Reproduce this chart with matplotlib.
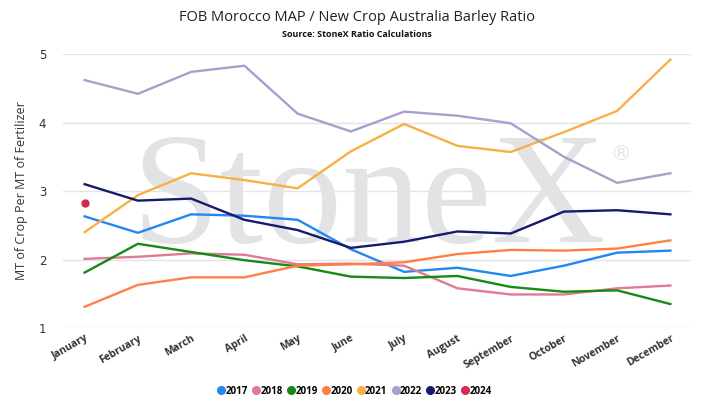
import numpy as np
import matplotlib.pyplot as plt
from matplotlib.lines import Line2D

months = ['January', 'February', 'March', 'April', 'May', 'June', 'July',
          'August', 'September', 'October', 'November', 'December']

y2017 = [2.63, 2.39, 2.66, 2.64, 2.58, 2.15, 1.82, 1.88, 1.76, 1.91, 2.10, 2.13]
y2018 = [2.01, 2.04, 2.09, 2.07, 1.93, 1.94, 1.91, 1.58, 1.49, 1.49, 1.58, 1.62]
y2019 = [1.81, 2.23, 2.11, 1.99, 1.90, 1.75, 1.73, 1.76, 1.60, 1.53, 1.55, 1.35]
y2020 = [1.31, 1.63, 1.74, 1.74, 1.91, 1.93, 1.96, 2.08, 2.14, 2.13, 2.16, 2.28]
y2021 = [2.40, 2.94, 3.26, 3.16, 3.04, 3.58, 3.98, 3.66, 3.57, 3.86, 4.17, 4.92]
y2022 = [4.62, 4.42, 4.74, 4.83, 4.13, 3.87, 4.16, 4.10, 3.99, 3.50, 3.12, 3.26]
y2023 = [3.10, 2.86, 2.89, 2.58, 2.43, 2.17, 2.26, 2.41, 2.38, 2.70, 2.72, 2.66]
y2024 = [2.82]

series = [('2017', y2017, '#2088f0'), ('2018', y2018, '#e07b91'),
          ('2019', y2019, '#168a16'), ('2020', y2020, '#ff7f45'),
          ('2021', y2021, '#f7b045'), ('2022', y2022, '#a2a2cc'),
          ('2023', y2023, '#151a6e'), ('2024', y2024, '#d42a4e')]

fig = plt.figure(figsize=(7.14, 4.16), dpi=100)
ax = fig.add_axes([0.088, 0.2115, 0.880, 0.6585])

# watermark
ax.text(0.487, 0.455, 'StoneX', transform=ax.transAxes, ha='center', va='center',
        fontsize=114, family='Liberation Serif', color='#e2e3e5', zorder=0)
ax.text(0.888, 0.635, '®', transform=ax.transAxes, ha='center', va='center',
        fontsize=15, family='DejaVu Sans', color='#e2e3e5', zorder=0)

x = np.arange(len(months))
handles = []
for name, vals, col in series:
    if len(vals) == 1:
        ax.plot(x[:1], vals, 'o', color=col, markersize=5, zorder=3)
    else:
        ax.plot(x[:len(vals)], vals, '-', color=col, linewidth=1.7, zorder=3)
    handles.append(Line2D([], [], linestyle='', marker='o', markersize=5.5,
                          color=col, label=name))

ax.set_xlim(-0.41, 11.39)
ax.set_ylim(1, 5)
ax.set_yticks([1, 2, 3, 4, 5])
ax.grid(axis='y', color='#e3e3e8', linewidth=1)
ax.set_axisbelow(True)
for s in ax.spines.values():
    s.set_visible(False)
ax.tick_params(axis='both', length=0, colors='#333333')
ax.tick_params(axis='y', labelsize=8.5, pad=12)
ax.set_xticks(x)
ax.set_xticklabels(months, rotation=30, ha='right', rotation_mode='anchor',
                   fontsize=7.5, fontweight='bold', family='Open Sans')
ax.set_ylabel('MT of Crop Per MT of Fertilizer', fontsize=9, color='#333333',
              family='Open Sans', labelpad=8)

fig.text(0.5, 0.958, 'FOB Morocco MAP / New Crop Australia Barley Ratio',
         ha='center', va='center', fontsize=10.5, family='Open Sans', color='#222222')
fig.text(0.5, 0.917, 'Source: StoneX Ratio Calculations', ha='center', va='center',
         fontsize=6.5, fontweight='bold', family='Open Sans', color='#111111')

fig.legend(handles=handles, loc='center', bbox_to_anchor=(0.497, 0.06), ncol=8,
           frameon=False, handletextpad=0.15, columnspacing=0.55, handlelength=0.6,
           prop={'size': 7, 'weight': 'bold', 'family': 'Open Sans'})

fig.savefig('out.png', dpi=100)
